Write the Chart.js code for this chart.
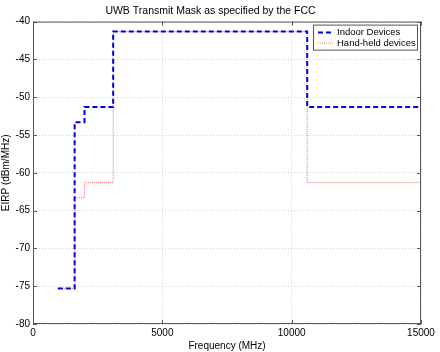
<!DOCTYPE html>
<html lang="en">
<head>
<meta charset="UTF-8">
<title>UWB Transmit Mask</title>
<script src="https://cdn.jsdelivr.net/npm/chart.js@4"></script>
<style>
    html, body { margin: 0; padding: 0; background: #fff; }
    #wrap { width: 440px; height: 352px; }
</style>
</head>
<body>
<div id="wrap"><canvas id="mask" width="440" height="352"></canvas></div>

<script>
// FCC mask breakpoints (MHz) and EIRP levels (dBm/MHz)
var freqs = [960, 1610, 1990, 3100, 10600, 15000];
var indoor = [-75.3, -53.3, -51.3, -41.3, -51.3, -51.3];
var handheld = [-75.3, -63.3, -61.3, -41.3, -61.3, -61.3];
var seriesNames = ['Indoor Devices', 'Hand-held devices'];
var xTicks = [0, 5000, 10000, 15000];
var yTicks = [-80, -75, -70, -65, -60, -55, -50, -45, -40];

var FONT = '"Liberation Sans", Arial, sans-serif';

function toPoints(ys) {
    return freqs.map(function(f, i) { return { x: f, y: ys[i] }; });
}

// box around the plot, inward ticks and the legend box
var framePlugin = {
    id: 'frame',
    afterDraw: function(chart) {
        var ctx = chart.ctx, a = chart.chartArea;
        var xs = chart.scales.x, ys = chart.scales.y;
        ctx.save();
        ctx.strokeStyle = '#555';
        ctx.lineWidth = 1;
        ctx.setLineDash([]);
        ctx.strokeRect(a.left + 0.5, a.top + 0.5, a.width - 1, a.height - 1);
        ctx.beginPath();
        xTicks.forEach(function(v) {
            var px = Math.round(xs.getPixelForValue(v)) + 0.5;
            ctx.moveTo(px, a.bottom); ctx.lineTo(px, a.bottom - 4);
            ctx.moveTo(px, a.top); ctx.lineTo(px, a.top + 4);
        });
        yTicks.forEach(function(v) {
            var py = Math.round(ys.getPixelForValue(v)) + 0.5;
            ctx.moveTo(a.left, py); ctx.lineTo(a.left + 4, py);
            ctx.moveTo(a.right, py); ctx.lineTo(a.right - 4, py);
        });
        ctx.stroke();

        // legend
        var lx = a.right - 108, ly = a.top + 3, lw = 104, lh = 25;
        ctx.fillStyle = '#fff';
        ctx.fillRect(lx, ly, lw, lh);
        ctx.strokeStyle = '#555';
        ctx.strokeRect(lx + 0.5, ly + 0.5, lw, lh);
        ctx.font = '9.5px ' + FONT;
        ctx.textBaseline = 'middle';
        chart.data.datasets.forEach(function(ds, i) {
            var y = ly + 8 + i * 10.5;
            ctx.save();
            ctx.strokeStyle = ds.borderColor;
            ctx.lineWidth = ds.borderWidth;
            ctx.setLineDash(ds.borderDash);
            ctx.beginPath();
            ctx.moveTo(lx + 5, y); ctx.lineTo(lx + 20, y);
            ctx.stroke();
            ctx.restore();
            ctx.fillStyle = '#000';
            ctx.fillText(ds.label, lx + 24, y);
        });
        ctx.restore();
    }
};

var ctx = document.getElementById('mask').getContext('2d');
var chart = new Chart(ctx, {
    type: 'line',
    data: {
        datasets: [{
            label: seriesNames[0],
            data: toPoints(indoor),
            borderColor: '#0000e6',
            borderWidth: 2,
            borderDash: [5, 3],
            stepped: 'before',
            pointRadius: 0,
            fill: false
        }, {
            label: seriesNames[1],
            data: toPoints(handheld),
            borderColor: 'rgba(240,60,60,0.7)',
            borderWidth: 1,
            borderDash: [1, 1],
            stepped: 'before',
            pointRadius: 0,
            fill: false
        }]
    },
    plugins: [framePlugin],
    options: {
        responsive: false,
        animation: false,
        layout: { padding: { left: 0, right: 19, top: 0, bottom: 0 } },
        plugins: {
            legend: { display: false },
            tooltip: { enabled: false },
            title: {
                display: true,
                text: 'UWB Transmit Mask as specified by the FCC',
                color: '#000',
                font: { family: FONT, size: 10.5, weight: 'normal' },
                padding: { top: 5, bottom: 4 }
            }
        },
        scales: {
            x: {
                type: 'linear',
                min: 0,
                max: 15000,
                afterBuildTicks: function(s) { s.ticks = xTicks.map(function(v) { return { value: v }; }); },
                afterFit: function(s) { s.height = 28; },
                ticks: {
                    color: '#000',
                    font: { family: FONT, size: 10 },
                    padding: 3,
                    maxRotation: 0,
                    callback: function(v) { return String(v); }
                },
                grid: { color: '#d0d0d0', drawTicks: false },
                border: { display: false, dash: [1, 2] },
                title: {
                    display: true,
                    text: 'Frequency (MHz)',
                    color: '#000',
                    font: { family: FONT, size: 10 },
                    padding: { top: 0, bottom: 0 }
                }
            },
            y: {
                min: -80,
                max: -40,
                afterBuildTicks: function(s) { s.ticks = yTicks.map(function(v) { return { value: v }; }); },
                afterFit: function(s) { s.width = 33; },
                ticks: {
                    color: '#000',
                    font: { family: FONT, size: 10 },
                    padding: 3
                },
                grid: { color: '#d0d0d0', drawTicks: false },
                border: { display: false, dash: [1, 2] },
                title: {
                    display: true,
                    text: 'EIRP (dBm/MHz)',
                    color: '#000',
                    font: { family: FONT, size: 10 },
                    padding: { top: 0, bottom: 0 }
                }
            }
        }
    }
});
</script>
</body>
</html>
